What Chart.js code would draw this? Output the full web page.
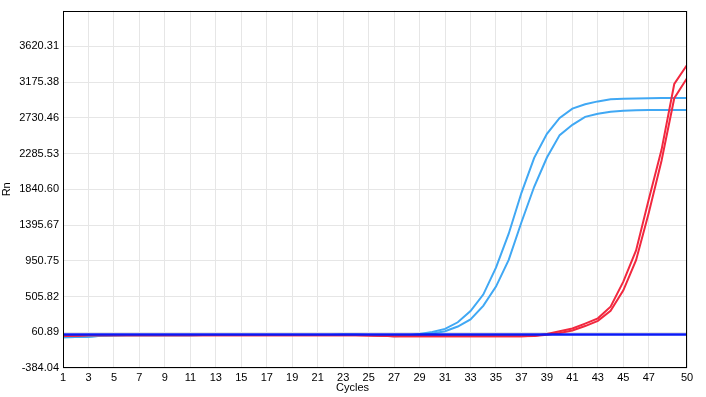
<!DOCTYPE html>
<html>
<head>
<meta charset="utf-8">
<script src="https://cdn.jsdelivr.net/npm/chart.js@4"></script>
<style>
  html, body { margin: 0; padding: 0; background: #ffffff; }
  #wrap { width: 706px; height: 397px; }
</style>
</head>
<body>
<div id="wrap"><canvas id="c" width="706" height="397"></canvas></div>
<script>
const cycles = [1,2,3,4,5,6,7,8,9,10,11,12,13,14,15,16,17,18,19,20,21,22,23,24,25,26,27,28,29,30,31,32,33,34,35,36,37,38,39,40,41,42,43,44,45,46,47,48,49,50];

const blueA = [0,2,6,18,22,23,24,24,25,25,25,26,26,26,26,27,27,27,27,28,28,28,29,29,28,20,14,20,38,63,103,185,324,530,865,1288,1797,2232,2531,2730,2845,2899,2935,2961,2968,2972,2975,2976,2977,2977];
const blueB = [0,2,6,18,22,23,24,24,25,25,25,26,26,26,26,27,27,27,27,28,28,28,29,29,28,20,12,16,30,45,73,132,221,390,629,962,1430,1872,2236,2515,2643,2742,2780,2805,2817,2825,2829,2829,2829,2829];
const redC = [14,18,24,25,25,25,25,25,25,25,25,25,25,25,25,25,25,25,25,25,25,25,25,24,22,18,12,11,11,11,11,11,11,11,11,11,12,18,38,73,107,169,234,380,691,1079,1716,2332,3152,3388];
const redD = [14,18,24,25,25,25,25,25,25,25,25,25,25,25,25,25,25,25,25,25,25,25,25,24,22,18,12,11,11,11,11,11,11,11,11,11,11,14,30,53,82,138,203,327,583,958,1549,2196,2975,3223];
const threshold = [32,32,32,32,32,32,32,32,32,32,32,32,32,32,32,32,32,32,32,32,32,32,32,32,32,32,32,32,32,32,32,32,32,32,32,32,32,32,32,32,32,32,32,32,32,32,32,32,32,32];

const xTickValues = [1,3,5,7,9,11,13,15,17,19,21,23,25,27,29,31,33,35,37,39,41,43,45,47,50];
const yTickValues = [-384.04, 60.89, 505.82, 950.75, 1395.67, 1840.60, 2285.53, 2730.46, 3175.38, 3620.31];
const yMin = -384.04, yMax = 4065.24;
const xTitle = 'Cycles';
const yTitle = 'Rn';

function pts(arr) { return cycles.map((c, i) => ({ x: c, y: arr[i] })); }

const LIGHT_BLUE = '#40a8f4';
const RED = '#f2283f';
const DARK_BLUE = '#0a1af5';
const FONT = { family: '"Liberation Sans", Arial, sans-serif', size: 11 };

const borderPlugin = {
  id: 'plotBorder',
  afterDraw(chart) {
    const a = chart.chartArea, ctx = chart.ctx;
    ctx.save();
    ctx.strokeStyle = '#000000';
    ctx.lineWidth = 1;
    ctx.strokeRect(Math.round(a.left) + 0.5, Math.round(a.top) + 0.5, Math.round(a.right - a.left) - 1, Math.round(a.bottom - a.top) - 1);
    ctx.fillStyle = '#000000';
    ctx.font = 'normal 11px "Liberation Sans", Arial, sans-serif';
    ctx.textAlign = 'center';
    ctx.textBaseline = 'middle';
    ctx.fillText(xTitle, a.left + (a.right - a.left) * 0.464, 388);
    ctx.restore();
  }
};

const ds = (label, arr, color, order, w) => ({
  label, data: pts(arr), borderColor: color, backgroundColor: color,
  borderWidth: w, pointRadius: 0, tension: 0, fill: false, order
});

new Chart(document.getElementById('c'), {
  type: 'line',
  data: {
    datasets: [
      ds('Threshold', threshold, DARK_BLUE, 0, 2.5),
      ds('Sample A', blueA, LIGHT_BLUE, 2, 2),
      ds('Sample B', blueB, LIGHT_BLUE, 2, 2),
      ds('Sample C', redC, RED, 1, 2),
      ds('Sample D', redD, RED, 1, 2)
    ]
  },
  options: {
    responsive: false,
    animation: false,
    devicePixelRatio: 1,
    layout: { padding: { left: 0, right: 19, top: 10, bottom: 0 } },
    plugins: { legend: { display: false }, tooltip: { enabled: false } },
    scales: {
      x: {
        type: 'linear', min: 1, max: 50,
        afterBuildTicks(s) { s.ticks = xTickValues.map(v => ({ value: v })); },
        afterFit(s) { s.height = 29; },
        grid: { color: '#e6e6e6', drawTicks: false, lineWidth: 1 },
        border: { display: false },
        ticks: { color: '#000000', font: FONT, padding: 3, maxRotation: 0, autoSkip: false,
                 callback: v => String(v) },
        title: { display: false }
      },
      y: {
        type: 'linear', min: yMin, max: yMax,
        afterBuildTicks(s) { s.ticks = yTickValues.map(v => ({ value: v })); },
        afterFit(s) { s.width = 63; },
        grid: { color: '#e6e6e6', drawTicks: false, lineWidth: 1 },
        border: { display: false },
        ticks: { color: '#000000', font: FONT, padding: 4, autoSkip: false,
                 callback: v => Number(v).toFixed(2) },
        title: { display: true, text: yTitle, color: '#000000', font: FONT, padding: { top: 0, bottom: 0 } }
      }
    }
  },
  plugins: [borderPlugin]
});
</script>
</body>
</html>
